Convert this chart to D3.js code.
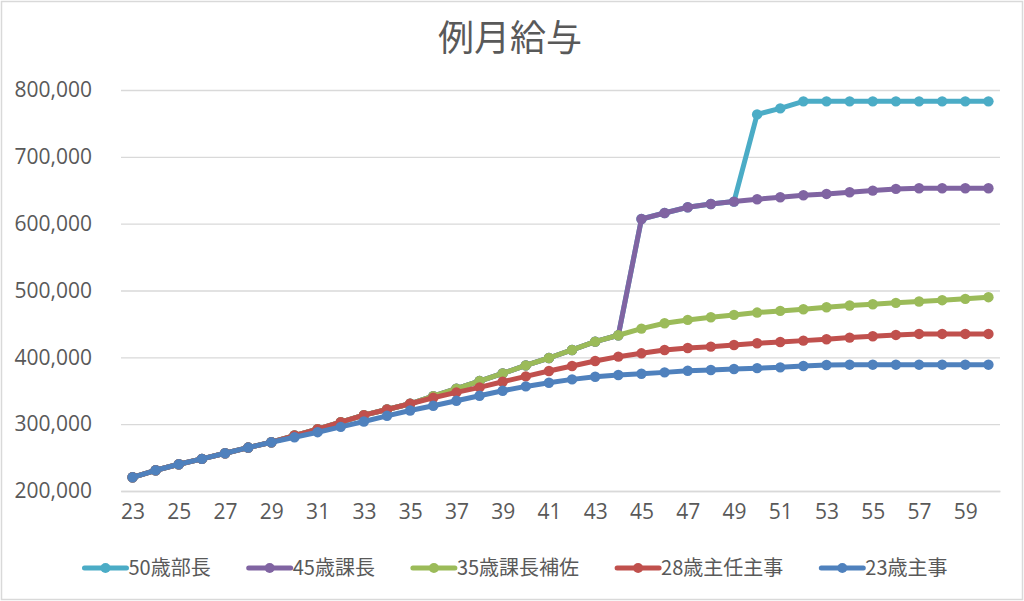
<!DOCTYPE html>
<html>
<head>
<meta charset="utf-8">
<script src="https://cdn.jsdelivr.net/npm/d3@7"></script>
<style>
  body { margin: 0; background: #fff; }
  text { font-family: "Open Sans", "Noto Sans CJK JP", sans-serif; fill: #595959; }
  .cjk { font-family: "Noto Sans CJK JP", sans-serif; }
</style>
</head>
<body>
<div id="line-chart"></div>
<script>
// ages on the x axis
const ages = d3.range(23, 61);
const xTickLabels = [23, 25, 27, 29, 31, 33, 35, 37, 39, 41, 43, 45, 47, 49, 51, 53, 55, 57, 59];
const yTicks = [200000, 300000, 400000, 500000, 600000, 700000, 800000];

const seriesNames = ["50歳部長", "45歳課長", "35歳課長補佐", "28歳主任主事", "23歳主事"];
const seriesColors = ["#4BACC6", "#8064A2", "#9BBB59", "#C0504D", "#4F81BD"];

// values, ages 23..60
const bucho50 = [
  220500, 231000, 240000, 248000, 256500, 265000, 273000, 283000, 292500, 303000,
  313500, 322000, 330500, 342000, 353000, 364500, 376000, 388000, 399000, 411000,
  423500, 433000, 607000, 616000, 624500, 629500, 633000, 763500, 772500, 783000,
  783000, 783000, 783000, 783000, 783000, 783000, 783000, 783000
];
const kacho45 = [
  220500, 231000, 240000, 248000, 256500, 265000, 273000, 283000, 292500, 303000,
  313500, 322000, 330500, 342000, 353000, 364500, 376000, 388000, 399000, 411000,
  423500, 433000, 607000, 616000, 624500, 629500, 633000, 636500, 639500, 642500,
  644500, 647000, 649500, 652000, 653000, 653000, 653000, 653000
];
const hosa35 = [
  220500, 231000, 240000, 248000, 256500, 265000, 273000, 283000, 292500, 303000,
  313500, 322000, 330500, 342000, 353000, 364500, 376000, 388000, 399000, 411000,
  423500, 433000, 443000, 451000, 456000, 460000, 463500, 467000, 469500, 472000,
  475000, 477500, 479500, 481500, 483500, 485500, 487500, 490000
];
const shunin28 = [
  220500, 231000, 240000, 248000, 256500, 265000, 273000, 283000, 292500, 303000,
  313500, 322000, 330500, 339500, 347500, 355000, 363500, 371500, 379500, 387000,
  394500, 401000, 406000, 411000, 414000, 416000, 418500, 421000, 423000, 425000,
  427000, 429500, 431500, 433500, 435000, 435000, 435000, 435000
];
const shuji23 = [
  220500, 231000, 240000, 248000, 256500, 265000, 273000, 280500, 288000, 296000,
  304000, 312500, 320500, 327500, 335000, 342500, 350000, 356500, 362000, 367000,
  371000, 373500, 375500, 377500, 380000, 381000, 382500, 383800, 385000, 387000,
  388500, 389000, 389000, 389000, 389000, 389000, 389000, 389000
];
const seriesValues = [bucho50, kacho45, hosa35, shunin28, shuji23];

class SalaryChart {
  constructor() {
    this.width = 1024;
    this.height = 601;
    this.plot = { left: 121, right: 1000, top: 90, bottom: 491 };

    this.svg = d3.select("#line-chart").append("svg")
      .attr("width", this.width)
      .attr("height", this.height);

    // x: one slot per age, points in the middle of the slot
    this.xScale = d3.scalePoint()
      .domain(ages)
      .range([this.plot.left, this.plot.right])
      .padding(0.5);

    this.yScale = d3.scaleLinear()
      .domain([200000, 800000])
      .range([this.plot.bottom, this.plot.top]);
  }

  drawFrame() {
    this.svg.append("rect")
      .attr("x", 1.5).attr("y", 1.5)
      .attr("width", this.width - 3).attr("height", this.height - 3)
      .attr("fill", "#fff")
      .attr("stroke", "#d9d9d9")
      .attr("stroke-width", 1.5);

    this.svg.append("text")
      .classed("cjk", true)
      .attr("x", 510)
      .attr("y", 51)
      .attr("text-anchor", "middle")
      .style("font-size", "36px")
      .text("例月給与");
  }

  drawAxes() {
    // horizontal grid lines + y labels
    const yAxis = d3.axisLeft(this.yScale)
      .tickValues(yTicks)
      .tickSize(-(this.plot.right - this.plot.left))
      .tickPadding(29)
      .tickFormat(d3.format(","));

    const gy = this.svg.append("g")
      .attr("transform", `translate(${this.plot.left}, 0)`)
      .call(yAxis);
    gy.select(".domain").remove();
    gy.selectAll("line").attr("stroke", "#d9d9d9").attr("stroke-width", 1.3);
    gy.selectAll("text")
      .style("font-size", "21px")
      .attr("font-family", null)
      .attr("fill", null);

    // x axis labels, every other age
    const xAxis = d3.axisBottom(this.xScale)
      .tickValues(xTickLabels)
      .tickSize(0)
      .tickPadding(13);

    const gx = this.svg.append("g")
      .attr("transform", `translate(0, ${this.plot.bottom})`)
      .call(xAxis);
    gx.select(".domain").attr("stroke", "#d9d9d9").attr("stroke-width", 1.3);
    gx.selectAll("text")
      .style("font-size", "21px")
      .attr("font-family", null)
      .attr("fill", null);
  }

  drawLines() {
    const lineGenerator = d3.line()
      .x((d, i) => this.xScale(ages[i]))
      .y((d) => this.yScale(d));

    // first series at the back, last (23歳主事) on top
    seriesValues.forEach((vals, k) => {
      const g = this.svg.append("g");
      g.append("path")
        .datum(vals)
        .attr("d", lineGenerator)
        .attr("fill", "none")
        .attr("stroke", seriesColors[k])
        .attr("stroke-width", 5)
        .attr("stroke-linejoin", "round");

      g.selectAll("circle")
        .data(vals)
        .join("circle")
        .attr("cx", (d, i) => this.xScale(ages[i]))
        .attr("cy", (d) => this.yScale(d))
        .attr("r", 5.2)
        .attr("fill", seriesColors[k]);
    });
  }

  drawLegend() {
    const legend = this.svg.append("g").attr("transform", "translate(0, 568)");
    const lineLen = 42;
    const gap = 38;

    // measure first, then center the whole row
    const items = legend.selectAll("g")
      .data(seriesNames)
      .join("g");
    items.append("text")
      .classed("cjk", true)
      .attr("x", lineLen + 2)
      .attr("dy", "0.35em")
      .style("font-size", "20px")
      .text((d) => d);

    const widths = [];
    items.select("text").each(function () {
      widths.push(this.getComputedTextLength());
    });
    const total = d3.sum(widths) + seriesNames.length * (lineLen + 2) + (seriesNames.length - 1) * gap;
    let x = 516 - total / 2;
    items.each(function (d, i) {
      d3.select(this).attr("transform", `translate(${x}, 0)`);
      x += lineLen + 2 + widths[i] + gap;
    });

    items.append("line")
      .attr("x1", 0).attr("x2", lineLen)
      .attr("stroke", (d, i) => seriesColors[i])
      .attr("stroke-width", 5)
      .attr("stroke-linecap", "round");
    items.append("circle")
      .attr("cx", lineLen / 2)
      .attr("r", 5)
      .attr("fill", (d, i) => seriesColors[i]);
  }
}

const chart = new SalaryChart();
chart.drawFrame();
chart.drawAxes();
chart.drawLines();
chart.drawLegend();
</script>
</body>
</html>
